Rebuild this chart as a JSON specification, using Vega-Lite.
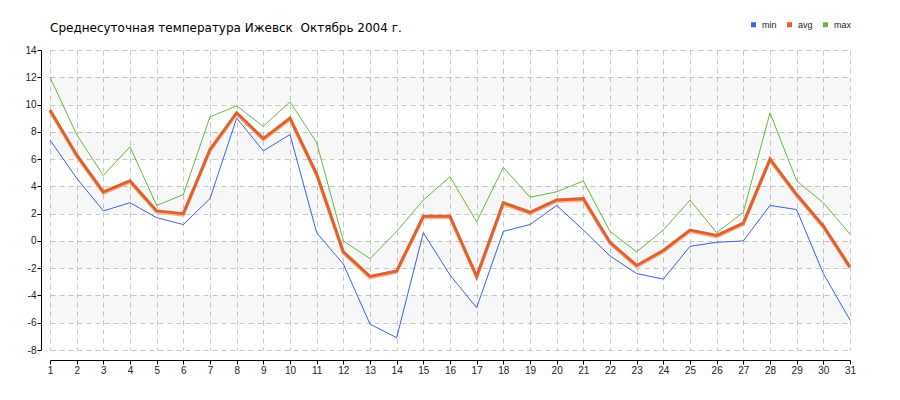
{
  "$schema": "https://vega.github.io/schema/vega-lite/v6.json",
  "width": 800,
  "height": 300,
  "autosize": {"type": "none"},
  "padding": {"left": 50, "top": 50, "right": 50, "bottom": 50},
  "background": "white",
  "title": {
    "text": "Среднесуточная температура Ижевск\u00a0 Октябрь 2004 г.",
    "anchor": "start",
    "frame": "group",
    "font": "DejaVu Sans",
    "fontSize": 12,
    "fontWeight": "normal",
    "color": "#000000",
    "baseline": "alphabetic",
    "offset": 12,
    "dy": 36,
    "dx": 0
  },
  "datasets": {
    "temps": [
      {"day": 1, "min": 7.4, "avg": 9.6, "max": 12.0},
      {"day": 2, "min": 4.6, "avg": 6.3, "max": 7.8},
      {"day": 3, "min": 2.2, "avg": 3.6, "max": 4.8},
      {"day": 4, "min": 2.8, "avg": 4.4, "max": 6.9},
      {"day": 5, "min": 1.7, "avg": 2.2, "max": 2.6},
      {"day": 6, "min": 1.2, "avg": 2.0, "max": 3.4},
      {"day": 7, "min": 3.1, "avg": 6.7, "max": 9.1},
      {"day": 8, "min": 9.0, "avg": 9.4, "max": 9.9},
      {"day": 9, "min": 6.6, "avg": 7.5, "max": 8.4},
      {"day": 10, "min": 7.8, "avg": 9.0, "max": 10.2},
      {"day": 11, "min": 0.6, "avg": 4.9, "max": 7.2},
      {"day": 12, "min": -1.7, "avg": -0.8, "max": 0.0},
      {"day": 13, "min": -6.1, "avg": -2.6, "max": -1.3},
      {"day": 14, "min": -7.1, "avg": -2.2, "max": 0.7},
      {"day": 15, "min": 0.6, "avg": 1.8, "max": 3.0},
      {"day": 16, "min": -2.5, "avg": 1.8, "max": 4.7},
      {"day": 17, "min": -4.9, "avg": -2.6, "max": 1.4},
      {"day": 18, "min": 0.7, "avg": 2.8, "max": 5.4},
      {"day": 19, "min": 1.2, "avg": 2.1, "max": 3.2},
      {"day": 20, "min": 2.6, "avg": 3.0, "max": 3.6},
      {"day": 21, "min": 0.8, "avg": 3.1, "max": 4.4},
      {"day": 22, "min": -1.1, "avg": -0.1, "max": 0.7},
      {"day": 23, "min": -2.4, "avg": -1.8, "max": -0.8},
      {"day": 24, "min": -2.8, "avg": -0.7, "max": 0.8},
      {"day": 25, "min": -0.4, "avg": 0.8, "max": 3.0},
      {"day": 26, "min": -0.1, "avg": 0.4, "max": 0.6},
      {"day": 27, "min": 0.0, "avg": 1.3, "max": 2.1},
      {"day": 28, "min": 2.6, "avg": 6.0, "max": 9.4},
      {"day": 29, "min": 2.3, "avg": 3.4, "max": 4.4},
      {"day": 30, "min": -2.4, "avg": 1.1, "max": 2.8},
      {"day": 31, "min": -5.8, "avg": -1.9, "max": 0.5}
    ],
    "bands": [
      {"lo": 10, "hi": 12},
      {"lo": 6, "hi": 8},
      {"lo": 2, "hi": 4},
      {"lo": -2, "hi": 0},
      {"lo": -6, "hi": -4}
    ]
  },
  "layer": [
    {
      "data": {"name": "bands"},
      "mark": {"type": "rect", "fill": "#000000", "fillOpacity": 0.03},
      "encoding": {
        "x": {"datum": 1, "type": "quantitative", "title": null},
        "x2": {"datum": 31},
        "y": {"field": "lo", "type": "quantitative", "title": null},
        "y2": {"field": "hi"}
      }
    },
    {
      "data": {"name": "temps"},
      "transform": [
        {"fold": ["min", "avg", "max"], "as": ["series", "value"]},
        {"filter": "datum.series != 'avg'"}
      ],
      "mark": {"type": "line", "strokeWidth": 1},
      "encoding": {
        "x": {
          "field": "day",
          "type": "quantitative",
          "title": null,
          "scale": {"domain": [1, 31], "nice": false, "zero": false},
          "axis": {
            "values": [1,2,3,4,5,6,7,8,9,10,11,12,13,14,15,16,17,18,19,20,21,22,23,24,25,26,27,28,29,30,31],
            "tickCount": 31,
            "labelExpr": "'' + datum.value",
            "offset": 10,
            "grid": true,
            "gridColor": "#c8c8c8",
            "gridDash": [5, 4],
            "gridWidth": 1,
            "domainColor": "#000000",
            "domainWidth": 1,
            "tickColor": "#000000",
            "tickSize": 4,
            "labelPadding": 1,
            "labelFont": "Liberation Sans",
            "labelFontSize": 10,
            "labelColor": "#222222",
            "labelFlush": false,
            "labelOverlap": false,
            "labelBound": false
          }
        },
        "y": {
          "field": "value",
          "type": "quantitative",
          "title": null,
          "scale": {"domain": [-8, 14], "nice": false, "zero": false},
          "axis": {
            "values": [-8,-7,-6,-5,-4,-3,-2,-1,0,1,2,3,4,5,6,7,8,9,10,11,12,13,14],
            "tickCount": 22,
            "labelExpr": "datum.value % 2 == 0 ? '' + datum.value : ''",
            "offset": 9,
            "grid": true,
            "gridColor": "#c8c8c8",
            "gridDash": [5, 4],
            "gridWidth": 1,
            "gridOpacity": {"condition": {"test": "datum.value % 2 != 0", "value": 0}, "value": 1},
            "domainColor": "#000000",
            "domainWidth": 1,
            "tickColor": {"condition": {"test": "datum.value % 2 != 0", "value": "#ff0000"}, "value": "#000000"},
            "tickSize": 4,
            "labelPadding": 1,
            "labelFont": "Liberation Sans",
            "labelFontSize": 10,
            "labelColor": "#222222",
            "labelOverlap": false,
            "labelBound": false
          }
        },
        "color": {
          "field": "series",
          "type": "nominal",
          "scale": {"domain": ["min", "avg", "max"], "range": ["#3a62e6", "#e2602c", "#66bb3e"]},
          "legend": {
            "title": null,
            "orient": "none",
            "legendX": 699,
            "legendY": -30,
            "direction": "horizontal",
            "padding": 0,
            "symbolType": "square",
            "symbolSize": 25,
            "symbolStrokeWidth": 0,
            "labelOffset": 4,
            "columnPadding": 8,
            "labelFont": "Liberation Sans",
            "labelFontSize": 9,
            "labelColor": "#222222",
            "encode": {
              "symbols": {
                "update": {
                  "fill": {"scale": "color", "field": "value"},
                  "fillOpacity": {"value": 1},
                  "strokeWidth": {"value": 0}
                }
              }
            }
          }
        }
      }
    },
    {
      "data": {"name": "temps"},
      "transform": [
        {"fold": ["min", "avg", "max"], "as": ["series", "value"]},
        {"filter": "datum.series == 'avg'"}
      ],
      "mark": {"type": "line", "strokeWidth": 3, "stroke": "#f3b89e", "yOffset": 1.5},
      "encoding": {
        "x": {"field": "day", "type": "quantitative", "title": null},
        "y": {"field": "value", "type": "quantitative", "title": null}
      }
    },
    {
      "data": {"name": "temps"},
      "transform": [
        {"fold": ["min", "avg", "max"], "as": ["series", "value"]},
        {"filter": "datum.series == 'avg'"}
      ],
      "mark": {"type": "line", "strokeWidth": 3},
      "encoding": {
        "x": {"field": "day", "type": "quantitative", "title": null},
        "y": {"field": "value", "type": "quantitative", "title": null},
        "color": {"field": "series", "type": "nominal"}
      }
    }
  ],
  "config": {
    "view": {"stroke": null},
    "axis": {"labelOverlap": false, "labelBound": false}
  }
}
